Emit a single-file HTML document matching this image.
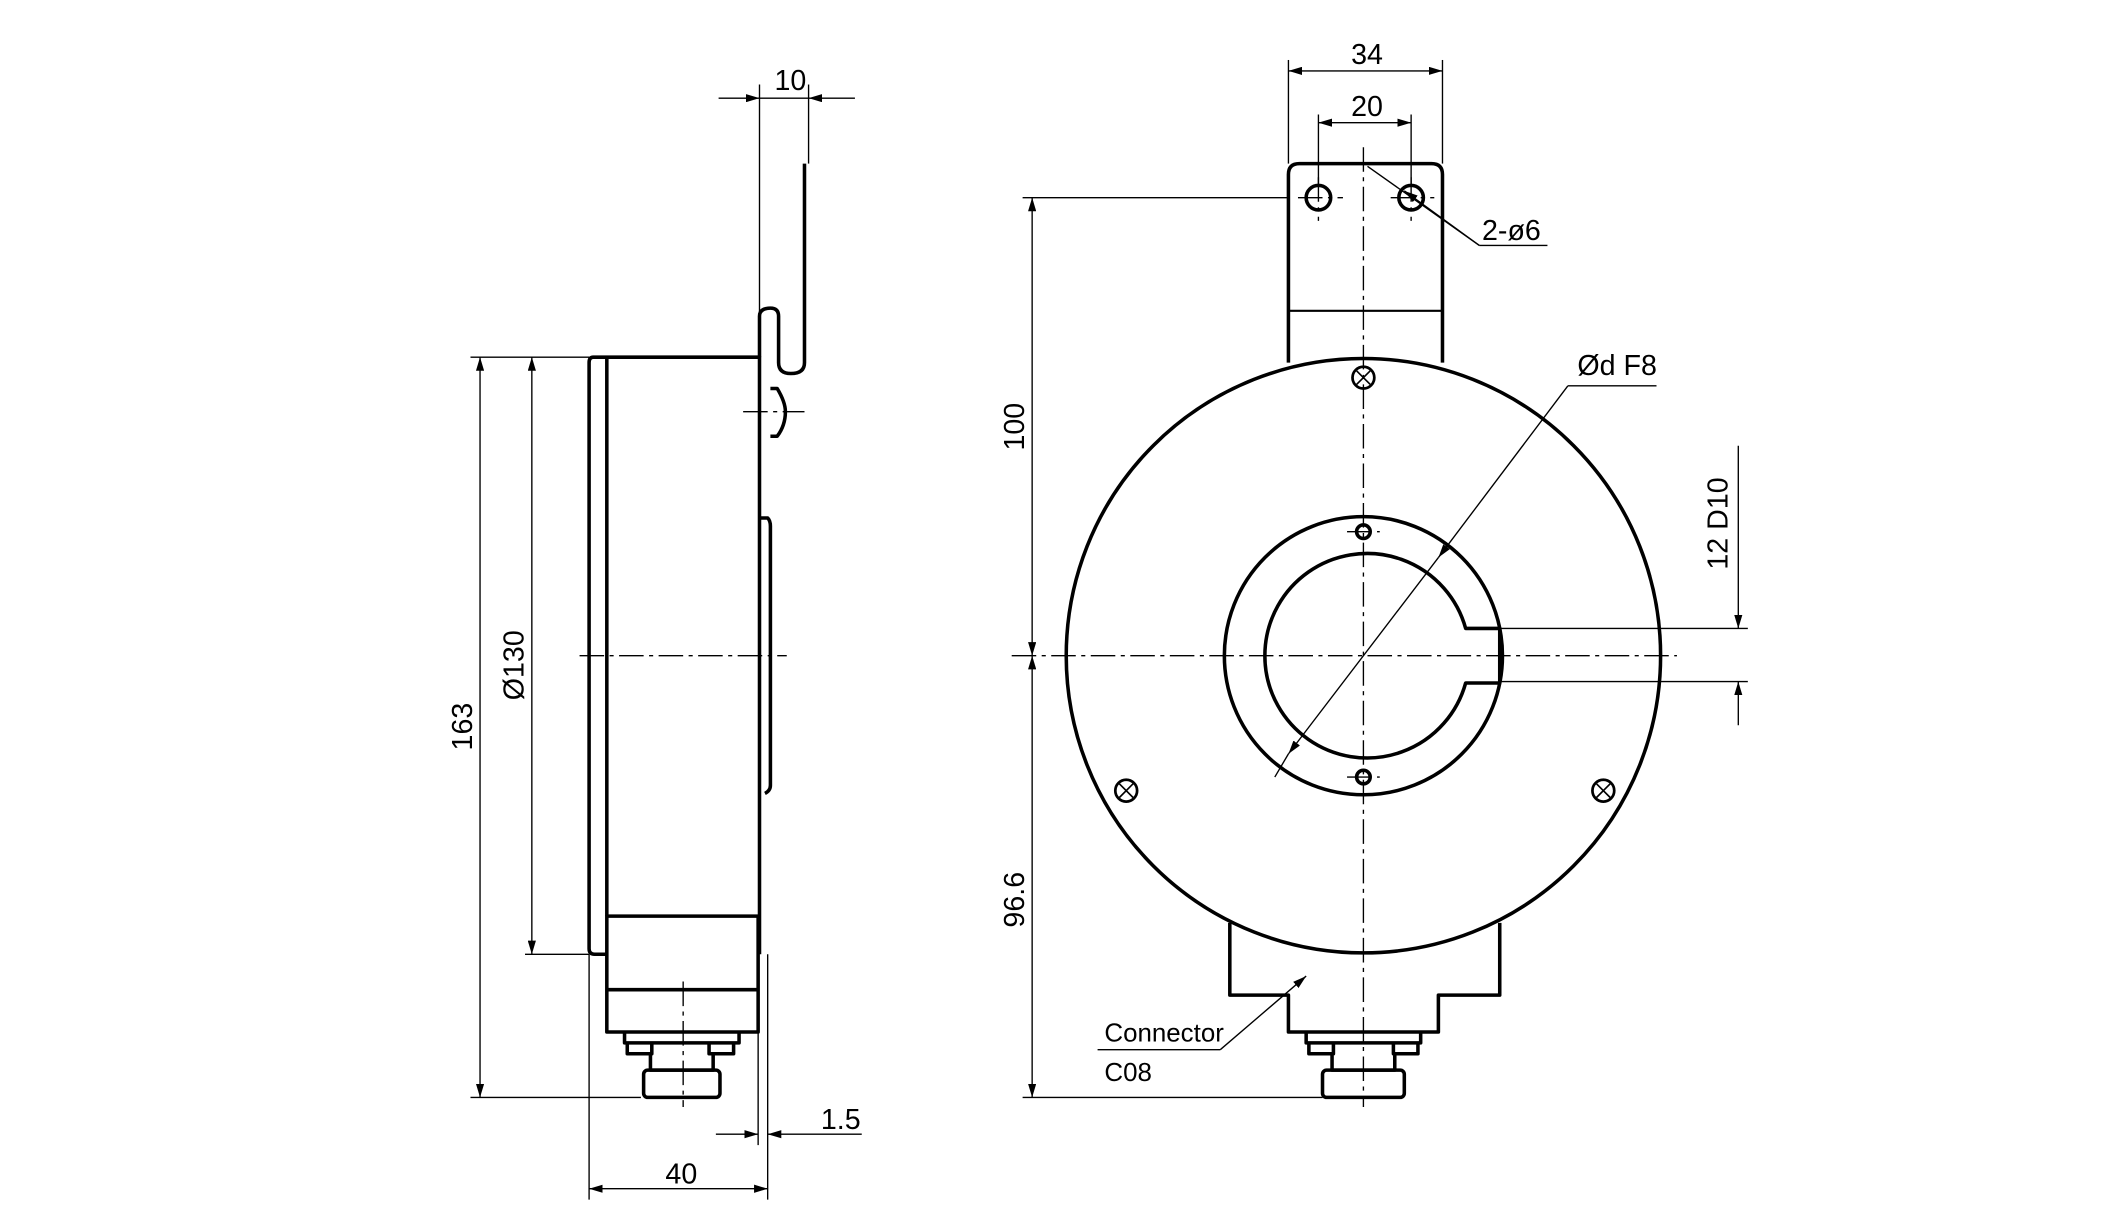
<!DOCTYPE html>
<html><head><meta charset="utf-8"><style>
html,body{margin:0;padding:0;background:#fff;}
svg{display:block;}
text{font-family:"Liberation Sans",sans-serif;font-size:21px;fill:#000;}
</style></head><body>
<svg width="2127" height="1216" viewBox="0 0 1560 892" xmlns="http://www.w3.org/2000/svg">
<defs>
<marker id="a" viewBox="0 0 10 6" refX="10" refY="3" markerWidth="10" markerHeight="6" orient="auto-start-reverse" markerUnits="userSpaceOnUse"><path d="M0,0 L10,3 L0,6 z" fill="#000"/></marker>
</defs>
<g fill="none" stroke="#000" stroke-width="2.6" stroke-linejoin="round">
<path d="M435,262 H557 V700 M435,262 Q432,262 432,266 V696 Q432,700 436,700 H445 M445,262 V672"/>
<path d="M557,380 H563 Q565,382 565,386 V576 Q565,580 561,582"/>
<rect x="445" y="672" width="111" height="85"/>
<line x1="445" y1="726" x2="556" y2="726"/>
<path d="M458,757 V765 H542 V757"/>
<path d="M460,765 V773 H478 V765 M520,765 V773 H538 V765"/>
<path d="M477,773 V785 H523 V773"/>
<rect x="472" y="785" width="56" height="20" rx="3"/>
<path d="M557,262 V232 Q557,226 565,226 Q571,226 571,232 V266 Q571,274 580,274 Q590,274 590,266 V120"/>
<path d="M565,285 H570 Q576,295 576,302 Q576,312 570,320 H565"/>
<circle cx="1000" cy="481" r="218"/>
<circle cx="1000" cy="481" r="102"/>
<path d="M1075,461 A75,75 0 1 0 1075,501 H1100 V461 Z" stroke-width="2.6"/>
<circle cx="1000" cy="390" r="5"/><circle cx="1000" cy="570" r="5"/>
<path d="M945,266 V128 Q945,120 953,120 H1050 Q1058,120 1058,128 V266"/>
<line x1="945" y1="228" x2="1058" y2="228" stroke-width="1.5"/>
<circle cx="967" cy="145" r="9"/><circle cx="1035" cy="145" r="9"/>
<path d="M902,677 V730 H945 V757 H1055 V730 H1100 V677"/>
<path d="M958,757 V765 H1042 V757 M960,765 V773 H978 V765 M1022,765 V773 H1040 V765 M977,773 V785 H1023 V773"/>
<rect x="970" y="785" width="60" height="20" rx="3"/>
</g>
<g fill="#fff" stroke="#000" stroke-width="2">
<circle cx="1000" cy="277" r="8"/><circle cx="826" cy="580" r="8"/><circle cx="1176" cy="580" r="8"/>
</g>
<g stroke="#000" stroke-width="1.2">
<path d="M995,272 L1005,282 M1005,272 L995,282 M821,575 L831,585 M831,575 L821,585 M1171,575 L1181,585 M1181,575 L1171,585"/>
</g>
<g stroke="#000" stroke-width="1" stroke-dasharray="18,4,3,4" fill="none">
<line x1="425" y1="481" x2="577" y2="481"/>
<line x1="1000" y1="108" x2="1000" y2="812"/>
<line x1="742" y1="481" x2="1230" y2="481"/>
<line x1="501" y1="720" x2="501" y2="812"/>
<line x1="545" y1="302" x2="590" y2="302"/>
<line x1="952" y1="145" x2="985" y2="145"/><line x1="1020" y1="145" x2="1052" y2="145"/>
<line x1="967" y1="130" x2="967" y2="162"/><line x1="1035" y1="130" x2="1035" y2="162"/>
<line x1="988" y1="390" x2="1012" y2="390"/><line x1="988" y1="570" x2="1012" y2="570"/>
</g>
<g stroke="#000" stroke-width="1" fill="none">
<line x1="345" y1="262" x2="432" y2="262"/>
<line x1="385" y1="700" x2="432" y2="700"/>
<line x1="345" y1="805" x2="470" y2="805"/>
<line x1="352" y1="262" x2="352" y2="805" marker-start="url(#a)" marker-end="url(#a)"/>
<line x1="390" y1="262" x2="390" y2="700" marker-start="url(#a)" marker-end="url(#a)"/>
<line x1="557" y1="62" x2="557" y2="230"/><line x1="593" y1="62" x2="593" y2="120"/>
<line x1="527" y1="72" x2="557" y2="72" marker-end="url(#a)"/>
<line x1="627" y1="72" x2="593" y2="72" marker-end="url(#a)"/>
<line x1="557" y1="72" x2="593" y2="72"/>
<line x1="563" y1="700" x2="563" y2="880"/><line x1="556" y1="757" x2="556" y2="840"/>
<line x1="432" y1="700" x2="432" y2="880"/>
<line x1="525" y1="832" x2="556" y2="832" marker-end="url(#a)"/>
<line x1="632" y1="832" x2="563" y2="832" marker-end="url(#a)"/>
<line x1="432" y1="872" x2="563" y2="872" marker-start="url(#a)" marker-end="url(#a)"/>
<line x1="945" y1="44" x2="945" y2="120"/><line x1="1058" y1="44" x2="1058" y2="120"/>
<line x1="945" y1="52" x2="1058" y2="52" marker-start="url(#a)" marker-end="url(#a)"/>
<line x1="967" y1="84" x2="967" y2="135"/><line x1="1035" y1="84" x2="1035" y2="135"/>
<line x1="967" y1="90" x2="1035" y2="90" marker-start="url(#a)" marker-end="url(#a)"/>
<line x1="750" y1="145" x2="945" y2="145"/>
<line x1="757" y1="145" x2="757" y2="481" marker-start="url(#a)" marker-end="url(#a)"/>
<line x1="757" y1="481" x2="757" y2="805" marker-start="url(#a)" marker-end="url(#a)"/>
<line x1="750" y1="805" x2="970" y2="805"/>
<line x1="1100" y1="461" x2="1282" y2="461"/><line x1="1100" y1="500" x2="1282" y2="500"/>
<line x1="1275" y1="327" x2="1275" y2="461" marker-end="url(#a)"/>
<line x1="1275" y1="532" x2="1275" y2="500" marker-end="url(#a)"/>
<line x1="1150" y1="283" x2="1215" y2="283"/>
<line x1="1150" y1="283" x2="1055" y2="409" marker-end="url(#a)"/>
<line x1="1055" y1="409" x2="945" y2="553" marker-end="url(#a)"/>
<line x1="945" y1="553" x2="935" y2="570"/>
<line x1="1135" y1="180" x2="1085" y2="180"/>
<line x1="1085" y1="180" x2="1003" y2="122"/>
<line x1="1085" y1="180" x2="1030" y2="140" marker-end="url(#a)"/>
<line x1="805" y1="770" x2="895" y2="770"/>
<line x1="895" y1="770" x2="958" y2="716" marker-end="url(#a)"/>
</g>
<text x="568" y="66">10</text>
<text x="602" y="828">1.5</text>
<text x="488" y="868">40</text>
<text transform="translate(346,533) rotate(-90)" text-anchor="middle">163</text>
<text transform="translate(384,488) rotate(-90)" text-anchor="middle">Ø130</text>
<text x="991" y="47">34</text>
<text x="991" y="85">20</text>
<text x="1087" y="176">2-ø6</text>
<text x="1157" y="275">Ød F8</text>
<text transform="translate(751,313) rotate(-90)" text-anchor="middle">100</text>
<text transform="translate(751,660) rotate(-90)" text-anchor="middle">96.6</text>
<text transform="translate(1267,384) rotate(-90)" text-anchor="middle">12 D10</text>
<text x="810" y="764" style="font-size:19px">Connector</text>
<text x="810" y="793" style="font-size:19px">C08</text>
</svg>
</body></html>
